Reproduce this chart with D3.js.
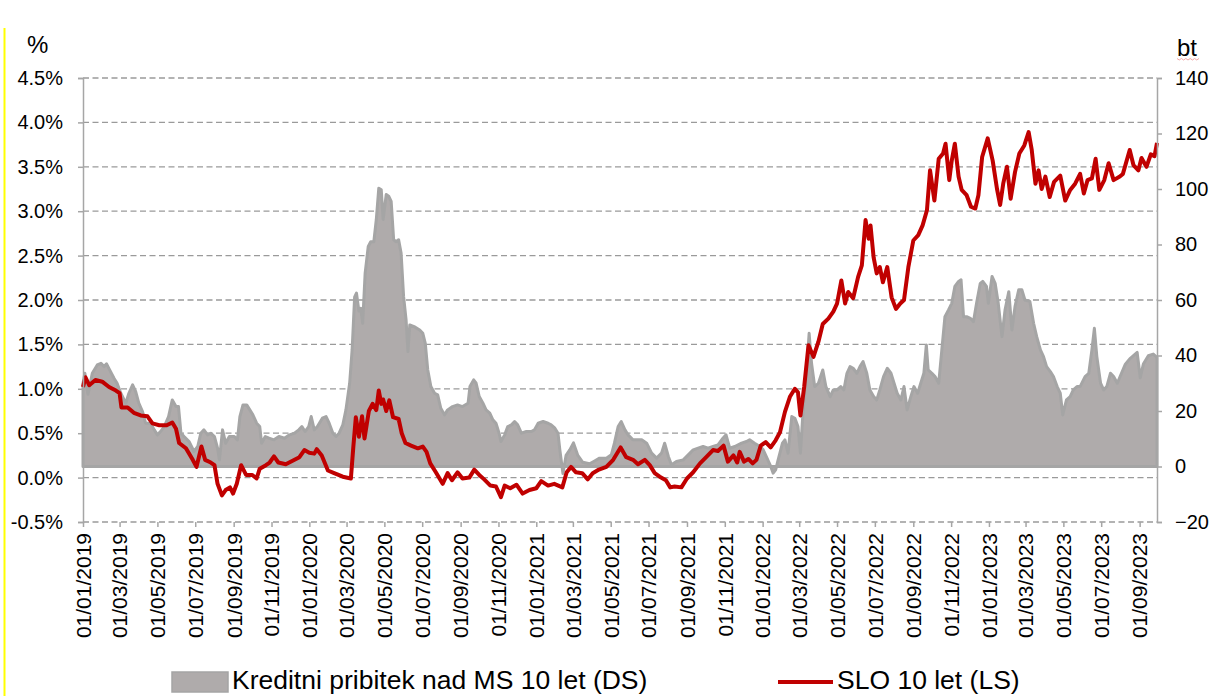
<!DOCTYPE html>
<html lang="sl">
<head>
<meta charset="utf-8">
<title>SLO 10 let in kreditni pribitek</title>
<script src="https://d3js.org/d3.v7.min.js"></script>
<style>
    body {
        margin: 0;
        background: #fff;
        font-family: "Liberation Sans", Arial, sans-serif;
    }
    .grid line {
        stroke: #9a9a9a;
        stroke-width: 1.3;
        stroke-dasharray: 6 3.5;
    }
    .axis text {
        fill: #000;
    }
    .axis line, .axis path {
        stroke: #a6a6a6;
        stroke-width: 1.5;
    }
</style>
</head>
<body>
<div id="chart"></div>
<script>
// SLO 10 let (LS), %
const yieldDates = ["2019-01-01","2019-01-05","2019-01-11","2019-01-21","2019-02-01","2019-02-12","2019-02-23","2019-03-01","2019-03-04","2019-03-14","2019-03-24","2019-04-04","2019-04-15","2019-04-23","2019-05-04","2019-05-16","2019-05-25","2019-05-31","2019-06-05","2019-06-16","2019-06-27","2019-07-03","2019-07-11","2019-07-17","2019-07-26","2019-08-01","2019-08-06","2019-08-13","2019-08-19","2019-08-26","2019-08-31","2019-09-06","2019-09-13","2019-09-21","2019-10-01","2019-10-08","2019-10-13","2019-10-23","2019-10-29","2019-11-05","2019-11-12","2019-11-24","2019-12-05","2019-12-16","2019-12-24","2020-01-01","2020-01-09","2020-01-13","2020-01-21","2020-01-31","2020-02-10","2020-02-24","2020-03-08","2020-03-12","2020-03-16","2020-03-21","2020-03-26","2020-03-30","2020-04-06","2020-04-12","2020-04-18","2020-04-22","2020-04-26","2020-04-29","2020-05-04","2020-05-09","2020-05-15","2020-05-24","2020-05-29","2020-06-04","2020-06-13","2020-06-24","2020-07-02","2020-07-08","2020-07-14","2020-07-23","2020-08-03","2020-08-11","2020-08-18","2020-08-27","2020-09-04","2020-09-15","2020-09-23","2020-10-01","2020-10-09","2020-10-19","2020-10-28","2020-11-05","2020-11-11","2020-11-20","2020-11-30","2020-12-10","2020-12-21","2021-01-01","2021-01-09","2021-01-20","2021-01-30","2021-02-12","2021-02-19","2021-02-26","2021-03-06","2021-03-16","2021-03-25","2021-04-02","2021-04-12","2021-04-24","2021-05-05","2021-05-17","2021-05-26","2021-06-06","2021-06-14","2021-06-25","2021-07-03","2021-07-11","2021-07-19","2021-07-29","2021-08-05","2021-08-12","2021-08-23","2021-09-01","2021-09-11","2021-09-22","2021-10-02","2021-10-13","2021-10-21","2021-10-30","2021-11-06","2021-11-15","2021-11-21","2021-11-25","2021-12-02","2021-12-09","2021-12-16","2021-12-22","2021-12-29","2022-01-06","2022-01-14","2022-01-22","2022-01-29","2022-02-06","2022-02-14","2022-02-22","2022-02-27","2022-03-03","2022-03-09","2022-03-16","2022-03-24","2022-04-01","2022-04-08","2022-04-17","2022-04-25","2022-05-01","2022-05-08","2022-05-14","2022-05-19","2022-05-27","2022-06-04","2022-06-10","2022-06-16","2022-06-21","2022-06-24","2022-06-29","2022-07-04","2022-07-09","2022-07-14","2022-07-21","2022-07-28","2022-08-04","2022-08-11","2022-08-17","2022-08-24","2022-09-01","2022-09-09","2022-09-16","2022-09-23","2022-09-28","2022-10-05","2022-10-12","2022-10-19","2022-10-23","2022-10-29","2022-11-02","2022-11-07","2022-11-13","2022-11-18","2022-11-26","2022-12-03","2022-12-10","2022-12-15","2022-12-21","2022-12-30","2023-01-07","2023-01-14","2023-01-19","2023-01-24","2023-01-30","2023-02-05","2023-02-12","2023-02-19","2023-02-27","2023-03-06","2023-03-11","2023-03-17","2023-03-22","2023-03-27","2023-04-02","2023-04-09","2023-04-16","2023-04-26","2023-05-04","2023-05-12","2023-05-20","2023-05-28","2023-06-03","2023-06-09","2023-06-16","2023-06-22","2023-06-28","2023-07-06","2023-07-13","2023-07-21","2023-07-31","2023-08-05","2023-08-16","2023-08-22","2023-08-30","2023-09-04","2023-09-12","2023-09-19","2023-09-25","2023-09-29"];
const yieldValues = [1.02,1.13,1.04,1.10,1.08,1.02,0.98,0.95,0.79,0.79,0.73,0.70,0.69,0.61,0.59,0.59,0.62,0.55,0.39,0.33,0.20,0.12,0.35,0.20,0.17,0.14,-0.07,-0.20,-0.14,-0.11,-0.18,-0.07,0.14,0.03,0.03,-0.01,0.10,0.14,0.17,0.24,0.17,0.15,0.19,0.23,0.31,0.28,0.27,0.32,0.25,0.08,0.05,0.01,-0.01,0.35,0.68,0.46,0.69,0.44,0.75,0.83,0.76,0.98,0.83,0.88,0.75,0.87,0.68,0.66,0.50,0.39,0.36,0.33,0.35,0.29,0.16,0.06,-0.07,0.05,-0.03,0.06,-0.01,0.00,0.09,0.03,-0.02,-0.09,-0.10,-0.22,-0.09,-0.12,-0.08,-0.18,-0.14,-0.12,-0.04,-0.09,-0.07,-0.11,0.06,0.12,0.06,0.05,-0.02,0.05,0.09,0.12,0.20,0.34,0.23,0.20,0.15,0.20,0.14,0.05,0.01,-0.03,-0.11,-0.10,-0.11,-0.01,0.06,0.16,0.23,0.31,0.30,0.36,0.18,0.25,0.17,0.29,0.18,0.21,0.16,0.20,0.36,0.40,0.34,0.42,0.51,0.74,0.91,1.00,0.96,0.70,1.02,1.49,1.36,1.53,1.73,1.79,1.87,1.96,2.22,1.96,2.09,2.02,2.26,2.39,2.90,2.69,2.84,2.48,2.30,2.37,2.20,2.37,2.03,1.90,1.96,2.00,2.37,2.67,2.73,2.84,3.01,3.46,3.12,3.59,3.65,3.76,3.35,3.57,3.76,3.39,3.24,3.18,3.05,3.03,3.18,3.61,3.82,3.57,3.25,3.07,3.31,3.50,3.14,3.44,3.65,3.74,3.89,3.69,3.31,3.46,3.25,3.39,3.16,3.33,3.40,3.12,3.24,3.31,3.42,3.20,3.35,3.37,3.59,3.24,3.35,3.54,3.35,3.39,3.42,3.69,3.52,3.46,3.60,3.50,3.64,3.62,3.77];

// Kreditni pribitek nad MS 10 let (DS), bt
const spreadDates = ["2019-01-01","2019-01-04","2019-01-09","2019-01-16","2019-01-24","2019-01-30","2019-02-04","2019-02-08","2019-02-13","2019-02-20","2019-02-25","2019-03-03","2019-03-11","2019-03-16","2019-03-22","2019-03-27","2019-04-01","2019-04-07","2019-04-12","2019-04-20","2019-04-26","2019-05-01","2019-05-06","2019-05-12","2019-05-19","2019-05-25","2019-05-31","2019-06-04","2019-06-08","2019-06-13","2019-06-21","2019-06-29","2019-07-05","2019-07-10","2019-07-15","2019-07-21","2019-07-26","2019-08-01","2019-08-06","2019-08-09","2019-08-14","2019-08-19","2019-08-25","2019-09-02","2019-09-07","2019-09-11","2019-09-16","2019-09-22","2019-09-27","2019-10-02","2019-10-08","2019-10-13","2019-10-16","2019-10-22","2019-10-28","2019-11-05","2019-11-13","2019-11-22","2019-11-30","2019-12-08","2019-12-15","2019-12-20","2019-12-25","2019-12-31","2020-01-04","2020-01-09","2020-01-14","2020-01-22","2020-01-28","2020-02-02","2020-02-08","2020-02-13","2020-02-18","2020-02-24","2020-02-29","2020-03-06","2020-03-10","2020-03-14","2020-03-17","2020-03-21","2020-03-24","2020-03-27","2020-03-31","2020-04-05","2020-04-09","2020-04-14","2020-04-18","2020-04-22","2020-04-26","2020-04-29","2020-05-04","2020-05-08","2020-05-12","2020-05-16","2020-05-20","2020-05-24","2020-05-28","2020-06-01","2020-06-05","2020-06-08","2020-06-11","2020-06-18","2020-06-27","2020-07-02","2020-07-06","2020-07-10","2020-07-15","2020-07-21","2020-07-26","2020-07-31","2020-08-06","2020-08-11","2020-08-19","2020-08-27","2020-09-04","2020-09-13","2020-09-16","2020-09-22","2020-09-26","2020-10-01","2020-10-07","2020-10-12","2020-10-18","2020-10-23","2020-10-28","2020-11-02","2020-11-05","2020-11-11","2020-11-16","2020-11-22","2020-11-27","2020-12-02","2020-12-08","2020-12-16","2020-12-24","2020-12-29","2021-01-04","2021-01-12","2021-01-20","2021-01-25","2021-01-31","2021-02-05","2021-02-08","2021-02-13","2021-02-18","2021-02-24","2021-03-02","2021-03-09","2021-03-17","2021-03-28","2021-04-05","2021-04-13","2021-04-24","2021-05-02","2021-05-07","2021-05-13","2021-05-18","2021-05-24","2021-05-29","2021-06-06","2021-06-14","2021-06-20","2021-06-28","2021-07-06","2021-07-14","2021-07-22","2021-07-27","2021-08-02","2021-08-07","2021-08-15","2021-08-26","2021-09-03","2021-09-11","2021-09-19","2021-09-27","2021-10-05","2021-10-13","2021-10-21","2021-10-29","2021-11-03","2021-11-09","2021-11-17","2021-11-28","2021-12-06","2021-12-11","2021-12-19","2021-12-28","2022-01-02","2022-01-07","2022-01-13","2022-01-18","2022-01-22","2022-01-26","2022-02-02","2022-02-06","2022-02-11","2022-02-17","2022-02-22","2022-02-27","2022-03-03","2022-03-08","2022-03-13","2022-03-17","2022-03-21","2022-03-26","2022-04-01","2022-04-08","2022-04-13","2022-04-20","2022-04-25","2022-05-01","2022-05-07","2022-05-12","2022-05-17","2022-05-22","2022-05-27","2022-06-02","2022-06-07","2022-06-12","2022-06-18","2022-06-23","2022-06-29","2022-07-04","2022-07-09","2022-07-15","2022-07-21","2022-07-27","2022-08-01","2022-08-06","2022-08-12","2022-08-17","2022-08-22","2022-08-28","2022-09-02","2022-09-08","2022-09-13","2022-09-18","2022-09-22","2022-09-25","2022-10-01","2022-10-06","2022-10-12","2022-10-17","2022-10-22","2022-10-28","2022-11-02","2022-11-07","2022-11-13","2022-11-17","2022-11-21","2022-11-26","2022-12-02","2022-12-07","2022-12-12","2022-12-18","2022-12-22","2022-12-28","2022-12-31","2023-01-06","2023-01-11","2023-01-16","2023-01-22","2023-01-27","2023-02-02","2023-02-07","2023-02-12","2023-02-18","2023-02-23","2023-02-28","2023-03-08","2023-03-14","2023-03-19","2023-03-25","2023-03-30","2023-04-04","2023-04-10","2023-04-15","2023-04-21","2023-04-26","2023-04-30","2023-05-06","2023-05-12","2023-05-17","2023-05-23","2023-05-28","2023-06-05","2023-06-11","2023-06-16","2023-06-20","2023-06-24","2023-06-30","2023-07-05","2023-07-10","2023-07-16","2023-07-21","2023-07-27","2023-08-01","2023-08-09","2023-08-17","2023-08-28","2023-09-02","2023-09-07","2023-09-15","2023-09-23","2023-09-29"];
const spreadValues = [30,33.6,26,33.6,36.6,37.2,36,37,34.8,31.8,30,26.4,22.8,26.4,29.4,27,22.8,19.8,15.6,15.6,13.2,11.4,12.6,14.4,18,24,21.6,21.6,12,10.8,9,5.4,7.2,12,13.2,11.4,12,10.8,6.6,2.4,13.2,8.4,10.8,10.8,9.6,18,22.2,22.2,20.4,18.6,15.6,14.4,8.4,10.8,10.2,9.6,10.8,10.2,11.4,12,13.2,14.4,12.6,14.4,18,13.2,14.4,17.4,18,15.6,12,10.8,12,15,20.4,30,42,61,62.5,56,57,51.6,69.7,79.3,81,81,89,100.3,99.7,89,98,97.4,95.5,81.7,81,81.7,76.9,61.3,52.9,41.4,51,50.4,49.2,48,44.4,34.8,28.8,26.4,25.8,21,18.6,20.4,21.6,22.2,21.6,22.8,28.8,31.2,30,25.2,22.8,20.4,19.2,16.8,15.6,12,9,11.4,14.4,15,16.2,15,12,12.6,12.6,13.2,15.6,16.2,15.6,15,13.8,12,6,-2.5,4,6,8.5,4,1.5,1,2,3,3,4.2,8.4,14.4,16.2,13.2,11.4,9.6,9.6,9.6,8.4,4.8,3,4.8,8.4,3.6,0.6,1.8,2.4,4.2,6,6.6,7.2,6.6,7.2,7.8,10.2,11.4,6.6,7.2,8.4,9,9.6,8.4,7.2,6,3.6,0.6,-2.4,-1.2,2.4,8.4,9.6,4.8,18,17.4,14.4,4.8,22.8,34.8,48,37,28.8,30,34.8,28.8,25.2,27.6,27.6,28.8,27.6,33.6,36,35.4,33.6,36,37.8,33.6,27.6,25.2,24,27.6,32.4,35.4,33.6,30,26.4,24,28.8,20.4,25.2,28.8,26.4,30,33.6,43.8,34.8,33.6,32.4,30,42,54,56.5,58.8,64.9,66.7,67.3,54,54,53.4,52.2,58.8,66,66.7,64.9,58.8,68.5,66,58.8,46.8,56.5,63,49.2,57.6,63.7,63.7,60,59.5,51.6,46.8,42,39.6,36,34.2,32.4,28.8,26.4,18.6,24,25.2,27.6,28.8,28.8,32.4,33.6,42,49.8,39.6,30,27.6,28.8,33.6,32.4,30,32.7,36.9,39,41.1,32,36.9,39.9,40.5,39.3];

const leftTicks = [-0.5, 0, 0.5, 1, 1.5, 2, 2.5, 3, 3.5, 4, 4.5];
const rightTicks = [-20, 0, 20, 40, 60, 80, 100, 120, 140];
const legendLabels = ["Kreditni pribitek nad MS 10 let (DS)", "SLO 10 let (LS)"];

const W = 1213, H = 696;
const plot = {left: 83, right: 1157, top: 78, bottom: 522};

const parse = d3.timeParse("%Y-%m-%d");
const yieldData = yieldDates.map((d, i) => ({date: parse(d), v: yieldValues[i]}));
const spreadData = spreadDates.map((d, i) => ({date: parse(d), v: spreadValues[i]}));

const svg = d3.select("#chart").append("svg")
    .attr("width", W)
    .attr("height", H)
    .style("display", "block");

const x = d3.scaleTime()
    .domain([parse("2019-01-01"), parse("2023-09-29")])
    .range([plot.left, plot.right]);

const yL = d3.scaleLinear().domain([-0.5, 4.5]).range([plot.bottom, plot.top]);
const yR = d3.scaleLinear().domain([-20, 140]).range([plot.bottom, plot.top]);

// yellow marker line on the left edge
svg.append("line")
    .attr("x1", 4.5).attr("x2", 4.5)
    .attr("y1", 28).attr("y2", H)
    .attr("stroke", "#ffff00")
    .attr("stroke-width", 2);

// dashed gridlines (left scale)
svg.append("g")
    .attr("class", "grid")
    .selectAll("line")
    .data(leftTicks)
    .join("line")
    .attr("x1", plot.left)
    .attr("x2", plot.right)
    .attr("y1", d => yL(d))
    .attr("y2", d => yL(d));

// spread area, right scale
const area = d3.area()
    .x(d => x(d.date))
    .y0(yR(0))
    .y1(d => yR(d.v));

svg.append("path")
    .datum(spreadData)
    .attr("d", area)
    .attr("fill", "#afabab")
    .attr("stroke", "#a5a5a5")
    .attr("stroke-width", 3)
    .attr("stroke-linejoin", "round");

// yield line, left scale
const line = d3.line()
    .x(d => x(d.date))
    .y(d => yL(d.v));

svg.append("path")
    .datum(yieldData)
    .attr("d", line)
    .attr("fill", "none")
    .attr("stroke", "#c00000")
    .attr("stroke-width", 4)
    .attr("stroke-linejoin", "round");

// axes
const axisL = svg.append("g")
    .attr("class", "axis")
    .attr("transform", `translate(${plot.left},0)`)
    .call(d3.axisLeft(yL)
        .tickValues(leftTicks)
        .tickSize(5)
        .tickPadding(15)
        .tickFormat(d => d.toFixed(1) + "%"));
axisL.selectAll("text")
    .style("font-family", "'Liberation Sans', Arial, sans-serif")
    .style("font-size", "20px");

const axisR = svg.append("g")
    .attr("class", "axis")
    .attr("transform", `translate(${plot.right},0)`)
    .call(d3.axisRight(yR)
        .tickValues(rightTicks)
        .tickSize(5)
        .tickPadding(13)
        .tickFormat(d3.format("d")));
axisR.selectAll("text")
    .style("font-family", "'Liberation Sans', Arial, sans-serif")
    .style("font-size", "20px");

const axisB = svg.append("g")
    .attr("class", "axis")
    .attr("transform", `translate(0,${plot.bottom})`)
    .call(d3.axisBottom(x)
        .ticks(d3.timeMonth.every(2))
        .tickSize(5)
        .tickFormat(d3.timeFormat("%d/%m/%Y")));
axisB.select(".domain").remove();
axisB.selectAll("text")
    .attr("transform", "rotate(-90)")
    .attr("x", -11)
    .attr("y", 0)
    .attr("dy", "0.35em")
    .style("text-anchor", "end")
    .style("font-family", "'Liberation Sans', Arial, sans-serif")
    .style("font-size", "21px");

// unit titles
svg.append("text")
    .attr("x", 27).attr("y", 53)
    .style("font-size", "24px")
    .text("%");

svg.append("text")
    .attr("x", 1177).attr("y", 56)
    .style("font-size", "24px")
    .text("bt");

// spell-check squiggle under "bt"
svg.append("path")
    .attr("d", d3.range(0, 11).map(i => `${i === 0 ? "M" : "L"}${1177 + i * 2.2},${i % 2 ? 60 : 58.5}`).join(""))
    .attr("fill", "none")
    .attr("stroke", "#f2a7a7")
    .attr("stroke-width", 1);

// legend
const legend = svg.append("g").style("font-size", "26.5px");

legend.append("rect")
    .attr("x", 172).attr("y", 672)
    .attr("width", 56).attr("height", 20)
    .attr("fill", "#afabab")
    .attr("stroke", "#a5a5a5")
    .attr("stroke-width", 1.5);

legend.append("text")
    .attr("x", 232).attr("y", 689)
    .text(legendLabels[0]);

legend.append("line")
    .attr("x1", 778).attr("x2", 833)
    .attr("y1", 682).attr("y2", 682)
    .attr("stroke", "#c00000")
    .attr("stroke-width", 4);

legend.append("text")
    .attr("x", 837).attr("y", 689)
    .text(legendLabels[1]);
</script>
</body>
</html>
